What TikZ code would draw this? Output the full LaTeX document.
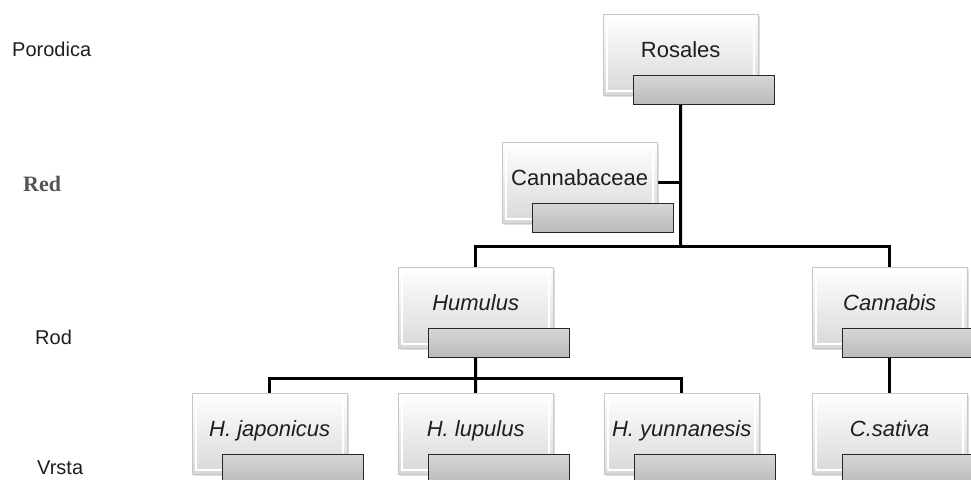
\documentclass[tikz,border=0pt]{standalone}
\usepackage{fontspec}
\setmainfont{Liberation Sans}
\newfontfamily\rankserif{Liberation Serif}
\usetikzlibrary{positioning, shadows, backgrounds}
\definecolor{boxgrey}{HTML}{D8D8D8}
\definecolor{inkgrey}{HTML}{1E1E1E}
\definecolor{redgrey}{HTML}{555555}

\begin{document}
\begin{tikzpicture}[x=1pt, y=-1pt]
\tikzstyle{taxon} = [rectangle, anchor=north west, minimum width=155pt, minimum height=81pt, inner sep=0pt, top color=white, bottom color=boxgrey, draw=black!22, text=inkgrey, font=\fontsize{22}{26}\selectfont, text height=16pt, text depth=10pt, drop shadow={shadow xshift=1.5pt, shadow yshift=-1.5pt, opacity=0.25}, path picture={\draw[white, line width=2pt] ([shift={(4pt,-4pt)}]path picture bounding box.north west) rectangle ([shift={(-4pt,4pt)}]path picture bounding box.south east);}]
\tikzstyle{taxonbar} = [rectangle, anchor=north west, minimum width=141pt, minimum height=29pt, inner sep=0pt, top color=black!16, bottom color=black!27, draw=black!85, line width=1.3pt]
\tikzstyle{rank} = [anchor=west, inner sep=0pt, text=inkgrey, font=\fontsize{20}{24}\selectfont]
\tikzstyle{link} = [draw=black, line width=3pt]

\useasboundingbox (0,0) rectangle (971,479);
\clip (0,0) rectangle (971,479);

% Rank labels
\node (porodica) [rank] at (12,49) {Porodica};
\node (red) [rank, text=redgrey, font=\rankserif\bfseries\fontsize{22}{26}\selectfont] at (23,184) {Red};
\node (rod) [rank] at (35,337) {Rod};
\node (vrsta) [rank] at (37,468) {Vrsta};

% Taxa
\node (rosales) [taxon] at (603,14) {Rosales};
\node (rosalesbar) [taxonbar] at ([shift={(30,61)}]rosales.north west) {};
\node (cannabaceae) [taxon] at (502,142) {Cannabaceae};
\node (cannabaceaebar) [taxonbar] at ([shift={(30,61)}]cannabaceae.north west) {};
\node (humulus) [taxon] at (398,267) {\itshape Humulus};
\node (humulusbar) [taxonbar] at ([shift={(30,61)}]humulus.north west) {};
\node (cannabis) [taxon] at (812,267) {\itshape Cannabis};
\node (cannabisbar) [taxonbar] at ([shift={(30,61)}]cannabis.north west) {};
\node (japonicus) [taxon] at (192,393) {\itshape H. japonicus};
\node (japonicusbar) [taxonbar] at ([shift={(30,61)}]japonicus.north west) {};
\node (lupulus) [taxon] at (398,393) {\itshape H. lupulus};
\node (lupulusbar) [taxonbar] at ([shift={(30,61)}]lupulus.north west) {};
\node (yunnanesis) [taxon] at (604,393) {\itshape H. yunnanesis};
\node (yunnanesisbar) [taxonbar] at ([shift={(30,61)}]yunnanesis.north west) {};
\node (sativa) [taxon] at (812,393) {\itshape C.sativa};
\node (sativabar) [taxonbar] at ([shift={(30,61)}]sativa.north west) {};

% Connectors
\coordinate (genussplit) at (680.5,246);
\coordinate (speciessplit) at (475.5,378);
\begin{pgfonlayer}{background}
\draw[link] (rosales.center) -- (genussplit);
\draw[link] (cannabaceae.east) -- (cannabaceae.east -| genussplit);
\draw[link] (humulus.center) |- (genussplit) -| (cannabis.center);
\draw[link] (humulus.center) -- (speciessplit);
\draw[link] (japonicus.center) |- (speciessplit) -| (yunnanesis.center);
\draw[link] (speciessplit) -- (lupulus.center);
\draw[link] (cannabis.center) -- (sativa.center);
\end{pgfonlayer}
\end{tikzpicture}
\end{document}
